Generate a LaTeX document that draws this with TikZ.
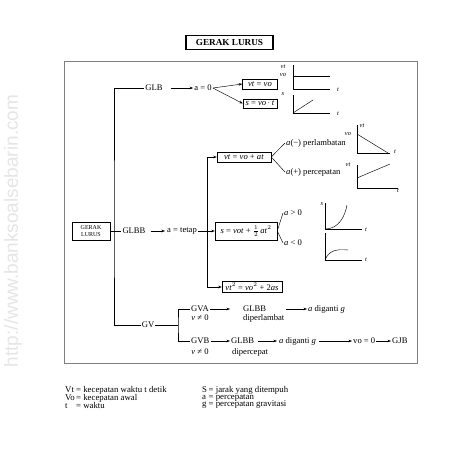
\documentclass[tikz,border=0pt]{standalone}
\usepackage{fontspec}
\setmainfont{Liberation Serif}
\setsansfont{Liberation Sans}
\usetikzlibrary{arrows.meta}
\newcommand{\fm}{\fontsize{8.6}{9.5}\selectfont}
\newcommand{\fl}{\fontsize{8.8}{7.5}\selectfont}
\newcommand{\fs}{\fontsize{6.5}{7}\selectfont}
\begin{document}
\begin{tikzpicture}[x=1pt,y=-1pt,
  txt/.style={inner sep=1pt,font=\fm},
  bx/.style={draw,inner sep=1.5pt,font=\fm,line width=0.5pt},
  lbl/.style={inner sep=0.5pt,font=\fs\itshape},
  arr/.style={-{Stealth[length=3.5pt,width=2.6pt]},line width=0.45pt},
  ln/.style={line width=0.45pt},
  ax/.style={line width=0.45pt},
  leg/.style={inner sep=0pt,anchor=north west,font=\fl}]
\useasboundingbox (0,0) rectangle (452,452);
% watermark
\node[rotate=90,font=\fontsize{19}{19}\sffamily,text=gray!20] (wm) at (13,231) {http://www.banksoalsebarin.com};
% title
\node[draw,line width=1.3pt,minimum width=87,minimum height=14,inner sep=1pt,font=\fontsize{9.2}{9.5}\selectfont\bfseries] (title) at (229.5,42.5) {GERAK LURUS};
% frame
\draw[line width=0.7pt,gray] (64,61) rectangle (417,363);
% root
\node[draw,line width=0.5pt,minimum width=38,minimum height=18,inner sep=0.5pt,align=center,font=\fontsize{6}{6.5}\selectfont] (gl) at (91,231) {GERAK\\LURUS};
\node[txt] (glb) at (154,88) {GLB};
\node[txt] (glbb) at (134,231) {GLBB};
\node[txt] (gv) at (148,325) {GV};
\coordinate (jt) at (114,231);
\draw[ln] (glb.west) -| (jt) |- (gv.west);
\draw[ln] (gl.east) -- (glbb.west);
% GLB branch
\node[txt] (a0) at (203,88) {a = 0};
\draw[arr] ([xshift=7]glb.east) -- (a0.west);
\node[bx,minimum width=35,minimum height=10] (vtvo) at (260,84) {\textit{vt} = \textit{vo}};
\node[bx,minimum width=34,minimum height=9.5] (svot) at (260,103.5) {\textit{s} = \textit{vo}$\,\cdot\,$\textit{t}};
\draw[arr] (a0.east) -- (vtvo.west);
\draw[arr] (a0.east) -- (svot.west);
% graph 1
\draw[ax] (293,65) -- (293,89) -- (330,89);
\draw[ax] (293,76) -- (330,76);
\node[lbl] (g1vt) at (283,67) {vt};
\node[lbl] (g1vo) at (283,75) {vo};
\node[lbl] (g1t) at (338,90) {t};
% graph 2
\draw[ax] (293,95) -- (293,113) -- (330,113);
\draw[ax] (293,113) -- (313,100);
\node[lbl] (g2s) at (283,94) {s};
\node[lbl] (g2t) at (338,114) {t};
% GLBB branch
\node[txt] (atetap) at (182,231) {a = tetap};
\draw[arr] ([xshift=4]glbb.east) -- ([xshift=-1]atetap.west);
\coordinate (vj) at (207,231);
\node[bx,minimum width=54,minimum height=9.5] (vbox) at (244,157) {\textit{vt} = \textit{vo} + \textit{at}};
\node[bx,minimum width=62,minimum height=18,inner sep=1pt] (sbox) at (246,231) {\textit{s} = \textit{vot} + $\frac{1}{2}$\,\textit{at}$^{2}$};
\node[bx,minimum width=60,minimum height=10] (v2box) at (252,287) {\textit{vt}$^{2}$ = \textit{vo}$^{2}$ + 2\textit{as}};
\draw[ln] (atetap.east) -- (vj);
\draw[arr] (vj) -- (sbox.west);
\draw[arr] (vj) |- (vbox.west);
\draw[arr] (vj) |- (v2box.west);
\node[txt,anchor=west] (am) at (285,143) {\textit{a}(−) perlambatan};
\node[txt,anchor=west] (ap) at (285,172) {\textit{a}(+) percepatan};
\draw[ln] (vbox.east) -- (am.west);
\draw[ln] (vbox.east) -- (ap.west);
\node[txt,anchor=west] (agt) at (283,213) {\textit{a} > 0};
\node[txt,anchor=west] (alt) at (283,243) {\textit{a} < 0};
\draw[ln] (sbox.east) -- (agt.west);
\draw[ln] (sbox.east) -- (alt.west);
% graph 3
\draw[ax] (357,125) -- (357,153) -- (390,153);
\draw[ax] (357,134) -- (388,153);
\node[lbl] (g3vt) at (362,126) {vt};
\node[lbl] (g3vo) at (348,134) {vo};
\node[lbl] (g3t) at (395,152) {t};
% graph 4
\draw[ax] (357,165) -- (357,188) -- (398,188);
\draw[ax] (357,178) -- (390,164);
\node[lbl] (g4vt) at (348,165) {vt};
\node[lbl] (g4t) at (398,191) {t};
% graph 5
\draw[ax] (325,203) -- (325,229) -- (362,229);
\draw[ax] (325,229) .. controls (339,229) and (345,216) .. (347,205);
\node[lbl] (g5s) at (322,204) {s};
\node[lbl] (g5t) at (366,230) {t};
% graph 6
\draw[ax] (325,233) -- (325,260) -- (362,260);
\draw[ax] (325,260) .. controls (329,250) and (337,249) .. (348,250);
\node[lbl] (g6t) at (366,260) {t};
% GV branch
\coordinate (vk) at (178,325);
\draw[ln] (gv.east) -- (vk);
\node[txt,anchor=west] (gva) at (190,309) {GVA};
\node[txt] (gvan) at (200,318) {\textit{v} ≠ 0};
\node[txt,anchor=west] (gvb) at (190,341) {GVB};
\node[txt] (gvbn) at (200,352) {\textit{v} ≠ 0};
\draw[ln] (gva.west) -| (vk) |- (gvb.west);
\node[txt,anchor=west] (glbb1) at (242,309) {GLBB};
\node[txt,anchor=west] (dl) at (242,318) {diperlambat};
\draw[arr] (gva.east) -- ([xshift=-12]glbb1.west);
\node[txt,anchor=west] (ag1) at (307,309) {\textit{a} diganti \textit{g}};
\draw[arr] ([xshift=1]dl.east |- glbb1.east) -- (ag1.west);
\node[txt,anchor=west] (glbb2) at (230,341) {GLBB};
\node[txt,anchor=west] (dc) at (231,352) {dipercepat};
\draw[arr] (gvb.east) -- (glbb2.west);
\node[txt,anchor=west] (ag2) at (278,341) {\textit{a} diganti \textit{g}};
\draw[arr] ([xshift=3]glbb2.east) -- ([xshift=-1]ag2.west);
\node[txt,anchor=west] (vo0) at (352,341) {vo = 0};
\draw[arr] ([xshift=2]ag2.east) -- (vo0.west);
\node[txt,anchor=west] (gjb) at (391,341) {GJB};
\draw[arr] (vo0.east) -- (gjb.west);
% legend
\node[leg] (legl) at (65,386) {\renewcommand{\arraystretch}{0.8}\begin{tabular}{@{}p{9.5pt}@{\,}l@{}}
Vt & = kecepatan waktu t detik\\
Vo & = kecepatan awal\\
t & = waktu
\end{tabular}};
\node[leg] (legr) at (202,386) {\renewcommand{\arraystretch}{0.8}\begin{tabular}{@{}p{5pt}@{\,}l@{}}
S & = jarak yang ditempuh\\
a & = percepatan\\
g & = percepatan gravitasi
\end{tabular}};
\end{tikzpicture}
\end{document}
